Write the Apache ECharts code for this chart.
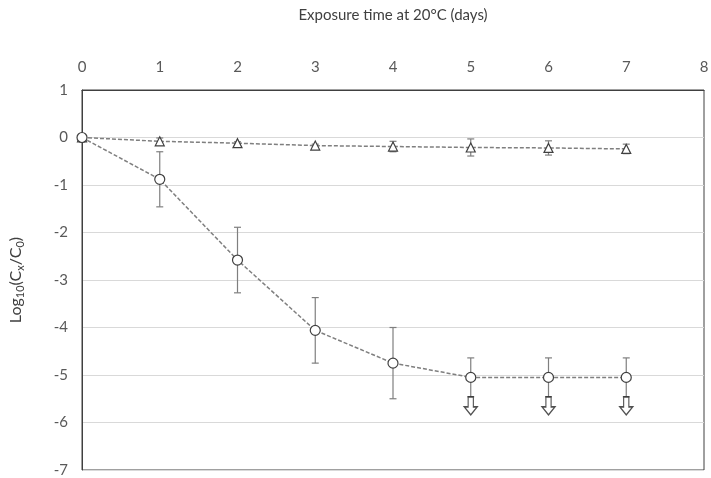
<!DOCTYPE html>
<html><head><meta charset="utf-8">
<script src="https://cdn.jsdelivr.net/npm/echarts@6/dist/echarts.min.js"></script>
<style>html,body{margin:0;padding:0;background:#fff}#c{width:711px;height:478px}</style>
</head><body><div id="c"></div>
<script>
const days = [0, 1, 2, 3, 4, 5, 6, 7];
const triMean = [0, -0.08, -0.12, -0.17, -0.19, -0.21, -0.22, -0.24];
const triErr = [0.02, 0.07, 0.03, 0.03, 0.11, 0.18, 0.15, 0.1];
const circMean = [0, -0.88, -2.58, -4.06, -4.75, -5.05, -5.05, -5.05];
const circErr = [0.02, 0.58, 0.69, 0.69, 0.75, 0.41, 0.41, 0.41];
const arrowDays = [5, 6, 7];
const arrowVal = [-5.65, -5.65, -5.65];
const xTicks = [0, 1, 2, 3, 4, 5, 6, 7, 8];
const yTicks = [1, 0, -1, -2, -3, -4, -5, -6, -7];

const font = 'Lato';
function errData(mean, err){ return days.map((d,i)=>[d, mean[i]-err[i], mean[i]+err[i]]); }
function errRender(params, api){
  const x = api.value(0), lo = api.value(1), hi = api.value(2);
  const p1 = api.coord([x, hi]), p2 = api.coord([x, lo]);
  const w = 3.5;
  const st = {stroke:'#7f7f7f', lineWidth:1.2};
  return {type:'group', children:[
    {type:'line', shape:{x1:p1[0],y1:p1[1],x2:p2[0],y2:p2[1]}, style:st},
    {type:'line', shape:{x1:p1[0]-w,y1:p1[1],x2:p1[0]+w,y2:p1[1]}, style:st},
    {type:'line', shape:{x1:p2[0]-w,y1:p2[1],x2:p2[0]+w,y2:p2[1]}, style:st}
  ]};
}
const chart = echarts.init(document.getElementById('c'), null, {renderer:'canvas'});
chart.setOption({
  animation:false,
  backgroundColor:'#fff',
  grid:{left:82, right:7, top:90, bottom:8, outerBoundsMode:'none', containLabel:false,
    show:true, borderColor:'#404040', borderWidth:1, backgroundColor:'transparent'},
  xAxis:{type:'value', min:0, max:8, interval:1, position:'top',
    name:'Exposure time at 20°C (days)', nameLocation:'middle', nameGap:67,
    nameTextStyle:{fontFamily:font, fontSize:15, color:'#404040'},
    axisLine:{show:true, onZero:false, lineStyle:{color:'#404040', width:1}}, axisTick:{show:false},
    splitLine:{show:false},
    axisLabel:{fontFamily:font, fontSize:15, color:'#595959', margin:15, formatter:v=>xTicks.includes(v)?String(v):''}},
  yAxis:{type:'value', min:-7, max:1, interval:1,
    name:'Log{sub|10}(C{sub|x}/C{sub|0})', nameLocation:'middle', nameGap:56, nameRotate:90,
    nameTextStyle:{fontFamily:font, fontSize:16, color:'#404040', lineHeight:20,
      rich:{sub:{fontFamily:font, fontSize:11, color:'#404040', verticalAlign:'bottom', lineHeight:20, padding:[8,0,0,0]}}},
    axisLine:{show:true, onZero:false, lineStyle:{color:'#404040', width:1}}, axisTick:{show:false},
    splitLine:{show:true, lineStyle:{color:'#d9d9d9', width:1}},
    axisLabel:{fontFamily:font, fontSize:15, color:'#595959', margin:14, formatter:v=>yTicks.includes(v)?String(v):''}},
  series:[
    {type:'custom', renderItem:errRender, data:errData(triMean, triErr), z:2, silent:true},
    {type:'custom', renderItem:errRender, data:errData(circMean, circErr), z:2, silent:true},
    {type:'line', data:days.map((d,i)=>[d, triMean[i]]), symbol:'triangle', symbolSize:9, z:3,
      lineStyle:{color:'#7f7f7f', width:1.5, type:[4,2]},
      itemStyle:{color:'#fff', borderColor:'#404040', borderWidth:1.2}},
    {type:'line', data:days.map((d,i)=>[d, circMean[i]]), symbol:'circle', symbolSize:10, z:3,
      lineStyle:{color:'#7f7f7f', width:1.5, type:[4,2]},
      itemStyle:{color:'#fff', borderColor:'#404040', borderWidth:1.2}},
    {type:'scatter', data:arrowDays.map((d,i)=>[d, arrowVal[i]]), z:4,
      symbol:'path://M3,0 L7,0 L7,10 L10,10 L5,18 L0,10 L3,10 Z', symbolSize:[13,18],
      itemStyle:{color:'#fff', borderColor:'#262626', borderWidth:1.3}}
  ]
});
</script></body></html>
